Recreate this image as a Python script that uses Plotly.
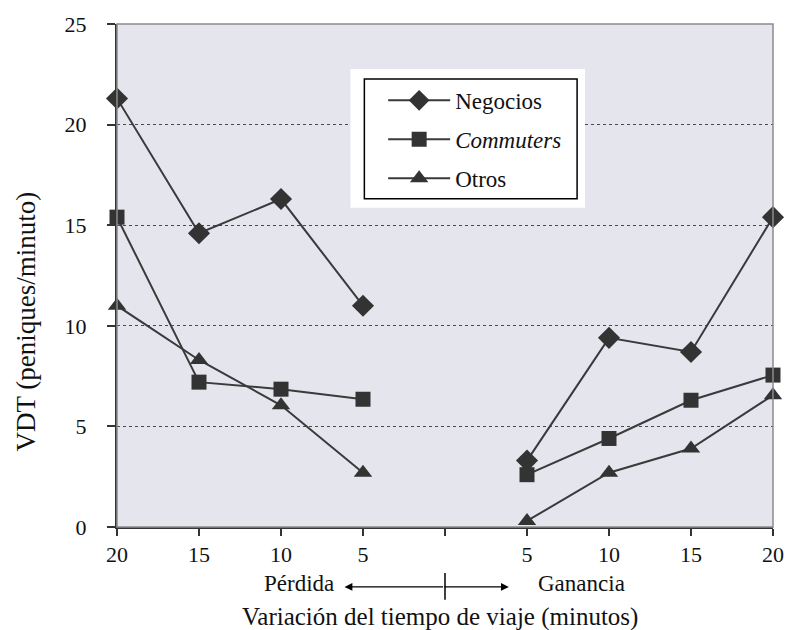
import plotly.graph_objects as go

# Travel-time change (minutes): losses on the left, gains on the right
loss_minutes = [20, 15, 10, 5]
gain_minutes = [5, 10, 15, 20]

# Value of travel time (pence/minute) per segment, losses then gains
negocios_loss = [21.3, 14.6, 16.3, 11.0]
negocios_gain = [3.3, 9.4, 8.7, 15.4]
commuters_loss = [15.4, 7.2, 6.85, 6.35]
commuters_gain = [2.6, 4.4, 6.3, 7.55]
otros_loss = [11.0, 8.3, 6.05, 2.7]
otros_gain = [0.3, 2.7, 3.9, 6.55]

y_ticks = [0, 5, 10, 15, 20, 25]

# Position on a single axis: losses 20..5 -> 0..3, centre 4, gains 5..20 -> 5..8
loss_pos = [(20 - m) / 5 for m in loss_minutes]
gain_pos = [4 + m / 5 for m in gain_minutes]
x_pos = loss_pos + [4] + gain_pos
x_text = [str(m) for m in loss_minutes] + [""] + [str(m) for m in gain_minutes]

FONT = "Liberation Serif"
INK = "#333333"
TEXT = "#111111"

series = [
    ("Negocios", negocios_loss, negocios_gain, "diamond", 17),
    ("<i>Commuters</i>", commuters_loss, commuters_gain, "square", 15),
    ("Otros", otros_loss, otros_gain, "triangle-up", 16),
]

fig = go.Figure()
for i, (name, loss, gain, symbol, size) in enumerate(series):
    fig.add_trace(go.Scatter(
        x=x_pos,
        y=loss + [None] + gain,
        name=name,
        mode="lines+markers",
        connectgaps=False,
        cliponaxis=False,
        legendgroup=f"g{i}",
        line=dict(color="#3a3a3a", width=2),
        marker=dict(symbol=symbol, size=size, color=INK, line=dict(width=0)),
    ))


def px_x(px):
    return (px - 117) / 663


def px_y(py):
    return (527 - py) / 504


shapes = [
    # plot frame: grey top/right border
    dict(type="rect", xref="paper", yref="paper", x0=0, x1=1, y0=0, y1=1,
         line=dict(color="#8c8c8c", width=1.5), layer="above"),
    # legend panel: white margin and black frame
    dict(type="rect", xref="paper", yref="paper",
         x0=px_x(353), x1=px_x(590), y0=px_y(207), y1=px_y(68),
         fillcolor="white", line=dict(width=0), layer="above"),
    dict(type="rect", xref="paper", yref="paper",
         x0=px_x(367), x1=px_x(582), y0=px_y(198), y1=px_y(78),
         line=dict(color="black", width=1.5), layer="above"),
    # divider between loss and gain below the axis
    dict(type="line", xref="x", yref="paper", x0=4, x1=4,
         y0=px_y(573), y1=px_y(600),
         line=dict(color="black", width=1.5)),
]

annotations = [
    dict(text="Pérdida", x=px_x(301), y=px_y(584), xref="paper", yref="paper",
         xanchor="center", yanchor="middle", showarrow=False,
         font=dict(family=FONT, size=23, color=TEXT)),
    dict(text="Ganancia", x=px_x(586), y=px_y(584), xref="paper", yref="paper",
         xanchor="center", yanchor="middle", showarrow=False,
         font=dict(family=FONT, size=23, color=TEXT)),
    dict(text="", x=px_x(347), y=px_y(587), xref="paper", yref="paper",
         ax=100, ay=0, showarrow=True, arrowhead=2, arrowsize=1.2,
         arrowwidth=1.3, arrowcolor="black"),
    dict(text="", x=px_x(513), y=px_y(587), xref="paper", yref="paper",
         ax=-66, ay=0, showarrow=True, arrowhead=2, arrowsize=1.2,
         arrowwidth=1.3, arrowcolor="black"),
    dict(text="Variación del tiempo de viaje (minutos)", x=px_x(443), y=px_y(617),
         xref="paper", yref="paper", xanchor="center", yanchor="middle",
         showarrow=False, font=dict(family=FONT, size=25, color=TEXT)),
    dict(text="VDT (peniques/minuto)", x=px_x(25), y=px_y(321),
         xref="paper", yref="paper", xanchor="center", yanchor="middle",
         showarrow=False, textangle=-90,
         font=dict(family=FONT, size=27, color=TEXT)),
]

fig.update_layout(
    width=796, height=630,
    margin=dict(l=117, r=16, t=23, b=103),
    paper_bgcolor="white",
    plot_bgcolor="#e5e5ee",
    font=dict(family=FONT, size=21, color=TEXT),
    showlegend=True,
    legend=dict(
        x=px_x(386), y=px_y(78), xanchor="left", yanchor="top",
        bgcolor="rgba(0,0,0,0)", borderwidth=0,
        font=dict(family=FONT, size=23, color=TEXT),
        tracegroupgap=6, itemwidth=62,
    ),
    xaxis=dict(
        range=[0, 8], tickvals=x_pos, ticktext=x_text,
        showgrid=False, zeroline=False,
        showline=True, linecolor=INK, linewidth=2,
        ticks="outside", ticklen=7, tickwidth=2, tickcolor=INK,
        tickfont=dict(family=FONT, size=22, color=TEXT),
    ),
    xaxis2=dict(
        range=[0, 8], tickvals=x_pos, overlaying="x", anchor="y",
        showticklabels=False, showgrid=False, zeroline=False,
        ticks="inside", ticklen=7, tickwidth=2, tickcolor=INK,
    ),
    yaxis=dict(
        range=[0, 25], tickvals=y_ticks,
        showgrid=True, gridcolor="#4a4a4a", gridwidth=1, griddash="dot",
        zeroline=False,
        showline=True, linecolor=INK, linewidth=2,
        ticks="outside", ticklen=8, tickwidth=2, tickcolor=INK,
        ticklabelstandoff=16,
        tickfont=dict(family=FONT, size=22, color=TEXT),
    ),
    shapes=shapes,
    annotations=annotations,
)

fig.write_html("out.html")
